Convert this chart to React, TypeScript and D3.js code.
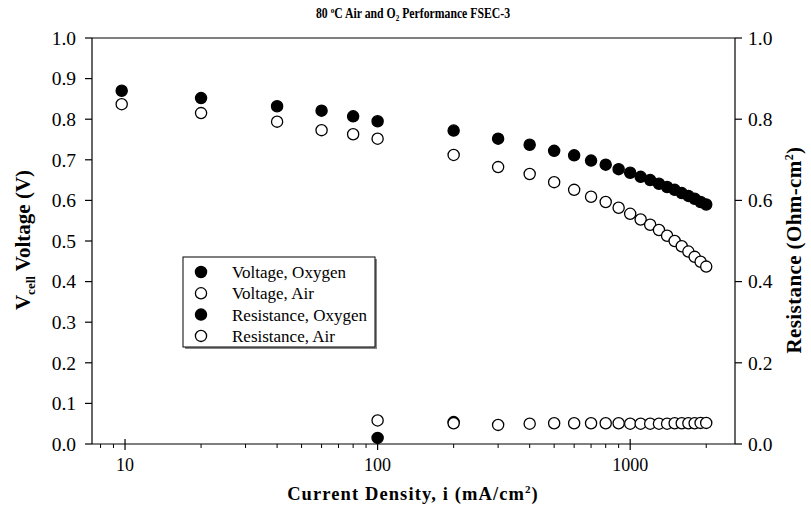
import React from "react";
import * as d3 from "d3";

// ---- data ----
const currentDensity = [9.7, 20, 40, 60, 80, 100, 200, 300, 400, 500, 600, 700, 800, 900, 1000, 1100, 1200, 1300, 1400, 1500, 1600, 1700, 1800, 1900, 2000];
const voltageOxygen = [0.870, 0.852, 0.832, 0.821, 0.807, 0.795, 0.772, 0.752, 0.737, 0.722, 0.711, 0.698, 0.688, 0.677, 0.668, 0.658, 0.650, 0.641, 0.633, 0.626, 0.618, 0.611, 0.604, 0.596, 0.590];
const voltageAir = [0.837, 0.815, 0.794, 0.773, 0.763, 0.752, 0.712, 0.682, 0.665, 0.645, 0.626, 0.609, 0.596, 0.582, 0.567, 0.553, 0.540, 0.527, 0.513, 0.500, 0.487, 0.474, 0.461, 0.449, 0.437];
const resOxygenCurrent = [100, 200];
const resistanceOxygen = [0.015, 0.054];
const resAirCurrent = [100, 200, 300, 400, 500, 600, 700, 800, 900, 1000, 1100, 1200, 1300, 1400, 1500, 1600, 1700, 1800, 1900, 2000];
const resistanceAir = [0.058, 0.051, 0.047, 0.050, 0.051, 0.051, 0.051, 0.051, 0.051, 0.050, 0.050, 0.050, 0.050, 0.050, 0.051, 0.051, 0.051, 0.051, 0.052, 0.052];

const xMajorTicks = [10, 100, 1000];
const xMinorTicks = [8, 9, 20, 30, 40, 50, 60, 70, 80, 90, 200, 300, 400, 500, 600, 700, 800, 900, 2000];
const yLeftTicks = [0, 0.1, 0.2, 0.3, 0.4, 0.5, 0.6, 0.7, 0.8, 0.9, 1.0];
const yRightTicks = [0, 0.2, 0.4, 0.6, 0.8, 1.0];
const legendLabels = ["Voltage, Oxygen", "Voltage, Air", "Resistance, Oxygen", "Resistance, Air"];
const legendFilled = [true, false, true, false];

const W = 811, H = 516;
const L = 92, R = 735, T = 38, B = 444;
const FONT = "'Liberation Serif', 'Times New Roman', serif";

export default function App() {
  const x = d3.scaleLog().domain([7.4, 2600]).range([L, R]);
  const y = d3.scaleLinear().domain([0, 1]).range([B, T]);
  const yR = d3.scaleLinear().domain([0, 1]).range([B, T]);
  const r = 5.6;

  const pts = (xs: number[], ys: number[], sc: d3.ScaleLinear<number, number>, filled: boolean, key: string) =>
    xs.map((xv, i) => (
      <circle key={key + i} cx={x(xv)} cy={sc(ys[i])} r={r}
        fill={filled ? "#000" : "#fff"} stroke="#000" strokeWidth={1.3} />
    ));

  const lgX = 183, lgY = 257, lgW = 192, lgH = 90, lgRow = 21.3;

  return (
    <svg width={W} height={H} style={{ position: "absolute", left: 0, top: 0, background: "#fff" }} fontFamily={FONT}>
      <rect x={0} y={0} width={W} height={H} fill="#fff" />
      {/* title */}
      <text transform="translate(413,18) scale(0.84,1)" x={0} y={0} textAnchor="middle" fontWeight="bold" fontSize={14}>
        80 <tspan dy={-5} fontSize={8.5}>o</tspan><tspan dy={5}>C Air and O</tspan><tspan dy={3} fontSize={8.5}>2</tspan><tspan dy={-3}> Performance FSEC-3</tspan>
      </text>

      {/* frame */}
      <line x1={L} x2={R} y1={T} y2={T} stroke="#000" strokeWidth={1.2} />
      <line x1={L} x2={R} y1={B} y2={B} stroke="#000" strokeWidth={1.2} />
      <line x1={L} x2={L} y1={T} y2={B} stroke="#000" strokeWidth={1.2} />
      <line x1={R} x2={R} y1={T} y2={B} stroke="#000" strokeWidth={1.2} />

      {/* x ticks */}
      {xMajorTicks.map(t => (
        <g key={"xm" + t}>
          <line x1={x(t)} x2={x(t)} y1={B - 5} y2={B + 6} stroke="#000" strokeWidth={1.2} />
          <text x={x(t)} y={B + 27} textAnchor="middle" fontSize={18}>{t}</text>
        </g>
      ))}
      {xMinorTicks.map(t => (
        <line key={"xn" + t} x1={x(t)} x2={x(t)} y1={B} y2={B + 4} stroke="#000" strokeWidth={1} />
      ))}

      {/* left y ticks */}
      {yLeftTicks.map(t => (
        <g key={"yl" + t}>
          <line x1={L - 7} x2={L} y1={y(t)} y2={y(t)} stroke="#000" strokeWidth={1.2} />
          <text x={L - 16} y={y(t)} dy="0.35em" textAnchor="end" fontSize={19.5}>{t.toFixed(1)}</text>
        </g>
      ))}
      {/* right y ticks */}
      {yRightTicks.map(t => (
        <g key={"yr" + t}>
          <line x1={R} x2={R + 7} y1={yR(t)} y2={yR(t)} stroke="#000" strokeWidth={1.2} />
          <text x={R + 13} y={yR(t)} dy="0.35em" textAnchor="start" fontSize={19.5}>{t.toFixed(1)}</text>
        </g>
      ))}

      {/* axis titles */}
      <text x={413} y={500} textAnchor="middle" fontWeight="bold" fontSize={18.5} letterSpacing={1.1}>
        Current Density, i (mA/cm<tspan dy={-7} fontSize={11}>2</tspan><tspan dy={7}>)</tspan>
      </text>
      <text transform="translate(30,240) rotate(-90)" textAnchor="middle" fontWeight="bold" fontSize={21}>
        V<tspan dy={5} fontSize={13}>cell</tspan><tspan dy={-5}> Voltage (V)</tspan>
      </text>
      <text transform="translate(801,250) rotate(-90)" textAnchor="middle" fontWeight="bold" fontSize={21} letterSpacing={0.4}>
        Resistance (Ohm-cm<tspan dy={-8} fontSize={12}>2</tspan><tspan dy={8}>)</tspan>
      </text>

      {/* data */}
      {pts(currentDensity, voltageOxygen, y, true, "vo")}
      {pts(currentDensity, voltageAir, y, false, "va")}
      {pts(resOxygenCurrent, resistanceOxygen, yR, true, "ro")}
      {pts(resAirCurrent, resistanceAir, yR, false, "ra")}

      {/* legend */}
      <rect x={lgX + 2} y={lgY + 2} width={lgW} height={lgH} fill="#888" />
      <rect x={lgX} y={lgY} width={lgW} height={lgH} fill="#fff" stroke="#000" strokeWidth={1} />
      {legendLabels.map((lab, i) => (
        <g key={"lg" + i}>
          <circle cx={lgX + 18} cy={lgY + 15 + i * lgRow} r={r} fill={legendFilled[i] ? "#000" : "#fff"} stroke="#000" strokeWidth={1.3} />
          <text x={lgX + 49} y={lgY + 15 + i * lgRow} dy="0.35em" fontSize={17}>{lab}</text>
        </g>
      ))}
    </svg>
  );
}
